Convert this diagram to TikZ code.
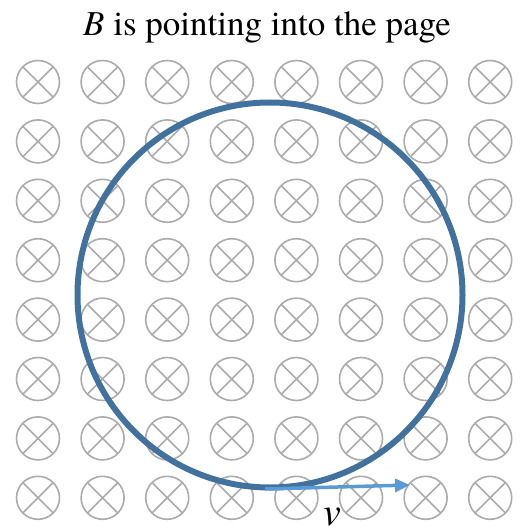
\documentclass[tikz,border=0pt]{standalone}
\usepackage{fontspec}
\setmainfont{TeX Gyre Termes}
\usetikzlibrary{arrows.meta}
\begin{document}
\begin{tikzpicture}[x=1pt,y=-1pt,
  bsym/.style={draw=black!33, line width=1.6pt, circle, minimum size=43pt, inner sep=0pt,
    path picture={\draw[black!33, line width=1.6pt] (path picture bounding box.north west) -- (path picture bounding box.south east) (path picture bounding box.north east) -- (path picture bounding box.south west);}},
  orbit/.style={draw=orbitblue, line width=6pt},
  vel/.style={draw=velblue, line width=3.5pt, -{Triangle[length=15pt,width=13pt]}}]
\definecolor{orbitblue}{RGB}{65,113,156}
\definecolor{velblue}{RGB}{91,155,213}
\useasboundingbox (0,0) rectangle (532,529);
\foreach \i in {0,...,7}{
  \foreach \j in {0,...,7}{
    \node[bsym] (s\i\j) at ({38+64.6*\i},{82+59.4*\j}) {};
  }
}
\coordinate (c) at (270,295);
\draw[orbit] (c) circle (192.5);
\coordinate (vstart) at (265,489);
\coordinate (vend) at (410,485);
\draw[vel] (vstart) -- (vend);
\node[anchor=base, font=\fontsize{35}{40}\selectfont] (title) at (267,36) {\textit{B} is pointing into the page};
\node[anchor=base, font=\fontsize{40}{44}\selectfont\itshape, inner sep=0pt] (vlabel) at (332,525) {v};
\end{tikzpicture}
\end{document}
